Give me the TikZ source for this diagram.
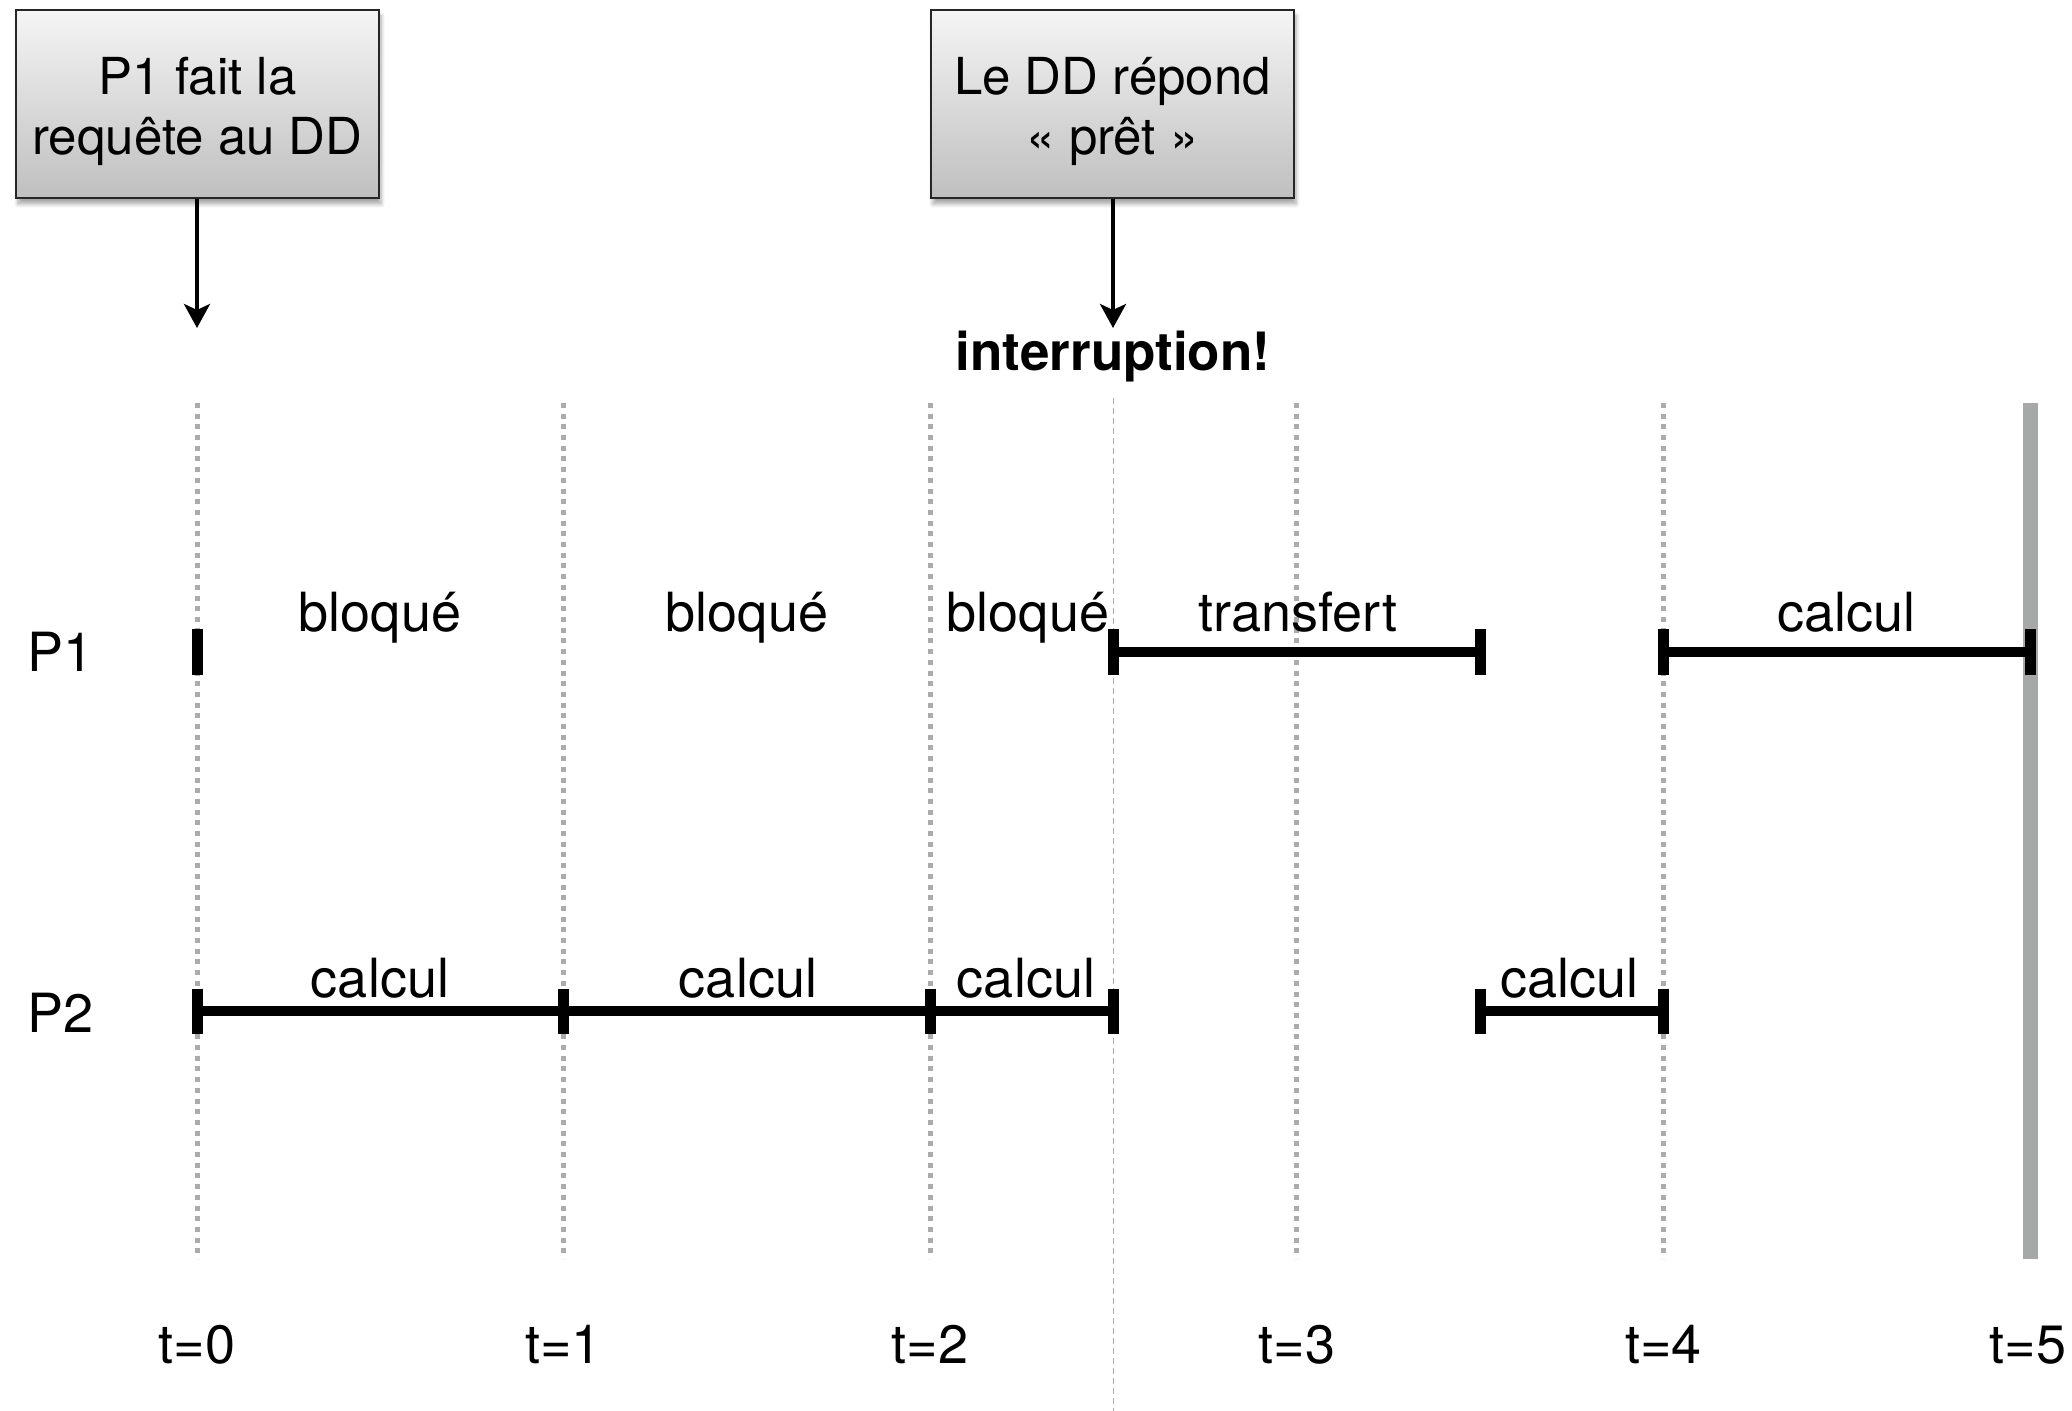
\documentclass[tikz,border=0pt]{standalone}
\usepackage{fontspec}
\setmainfont{TeX Gyre Heros}
\usetikzlibrary{arrows.meta,shadows.blur}
\definecolor{gridcol}{HTML}{ABABAB}
\definecolor{tbar}{HTML}{A6A9A7}
\begin{document}
\begin{tikzpicture}[x=0.5pt,y=-0.5pt,
  box/.style={draw=black!85,line width=1pt,top color=black!4,bottom color=black!25,
    minimum width=181.5pt,minimum height=94pt,inner sep=0pt,
    blur shadow={shadow xshift=1pt,shadow yshift=-3pt,shadow blur steps=6,shadow opacity=35}},
  boxtext/.style={align=center,inner sep=0pt,font=\fontsize{25.5}{30}\selectfont},
  arr/.style={line width=2pt,-{Stealth[length=12pt,width=13pt,inset=3pt]}},
  grid/.style={gridcol,line width=2.5pt,dash pattern=on 2.5pt off 2.85pt},
  intline/.style={gridcol,line width=0.9pt,dash pattern=on 3pt off 2pt},
  seg/.style={line width=5pt},
  endcap/.style={line width=5.5pt},
  lab/.style={font=\fontsize{27}{30}\selectfont,inner sep=0pt,anchor=base},
]
\useasboundingbox (0,0) rectangle (2072,1411);

% time grid
\foreach \x in {197,563.6,930.2,1296.8,1663.4}{\draw[grid] (\x,403) -- (\x,1259);}
\draw[intline] (1113.5,398) -- (1113.5,1411);
\fill[tbar] (2022.5,403) rectangle (2037.5,1259);

% boxes and arrows
\node[box] (b1) at (197.5,104) {};
\node[boxtext] (b1t) at ([yshift=-3.5pt]b1.center) {P1 fait la\\requête au DD};
\node[box] (b2) at (1112.5,104) {};
\node[boxtext] (b2t) at ([yshift=-3.5pt]b2.center) {Le DD répond\\« prêt »};
\coordinate (b1tip) at (197,328);
\coordinate (b2tip) at (1113,328);
\draw[arr] (b1.south -| b1tip) -- (b1tip);
\draw[arr] (b2.south -| b2tip) -- (b2tip);
\node[lab,font=\fontsize{26.5}{30}\selectfont\bfseries] (intr) at (1113,371) {interruption!};

% row coordinates
\coordinate (p1a) at (197,652);
\coordinate (p1b) at (1113.5,652);
\coordinate (p1c) at (1480,652);
\coordinate (p1d) at (1663.4,652);
\coordinate (p1e) at (2030,652);
\coordinate (p2a) at (197,1011);
\coordinate (p2b) at (563.6,1011);
\coordinate (p2c) at (930.2,1011);
\coordinate (p2d) at (1113.5,1011);
\coordinate (p2e) at (1480,1011);
\coordinate (p2f) at (1663.4,1011);

% segments
\draw[seg] (p1b) -- (p1c);
\draw[seg] (p1d) -- (p1e);
\draw[seg] (p2a) -- (p2d);
\draw[seg] (p2e) -- (p2f);
\foreach \c in {p1a,p1b,p1c,p1d,p1e,p2a,p2b,p2c,p2d,p2e,p2f}{
  \draw[endcap] ([yshift=11.25pt]\c) -- ([yshift=-11.25pt]\c);}

% row labels
\node[lab,anchor=base west] (P1) at (27,671) {P1};
\node[lab,anchor=base west] (P2) at (27,1032) {P2};

% state labels
\node[lab] (s1) at (380,632) {bloqué};
\node[lab] (s2) at (747,632) {bloqué};
\node[lab] (s3) at (1028,632) {bloqué};
\node[lab] (s4) at (1298,632) {transfert};
\node[lab] (s5) at (1846,632) {calcul};
\node[lab] (q1) at (380,997) {calcul};
\node[lab] (q2) at (748,997) {calcul};
\node[lab] (q3) at (1026,997) {calcul};
\node[lab] (q4) at (1569,997) {calcul};

% time labels
\node[lab] (t0) at (197,1363) {t=0};
\node[lab] (t1) at (563.6,1363) {t=1};
\node[lab] (t2) at (930.2,1363) {t=2};
\node[lab] (t3) at (1296.8,1363) {t=3};
\node[lab] (t4) at (1663.4,1363) {t=4};
\node[lab] (t5) at (2028,1363) {t=5};
\end{tikzpicture}
\end{document}
